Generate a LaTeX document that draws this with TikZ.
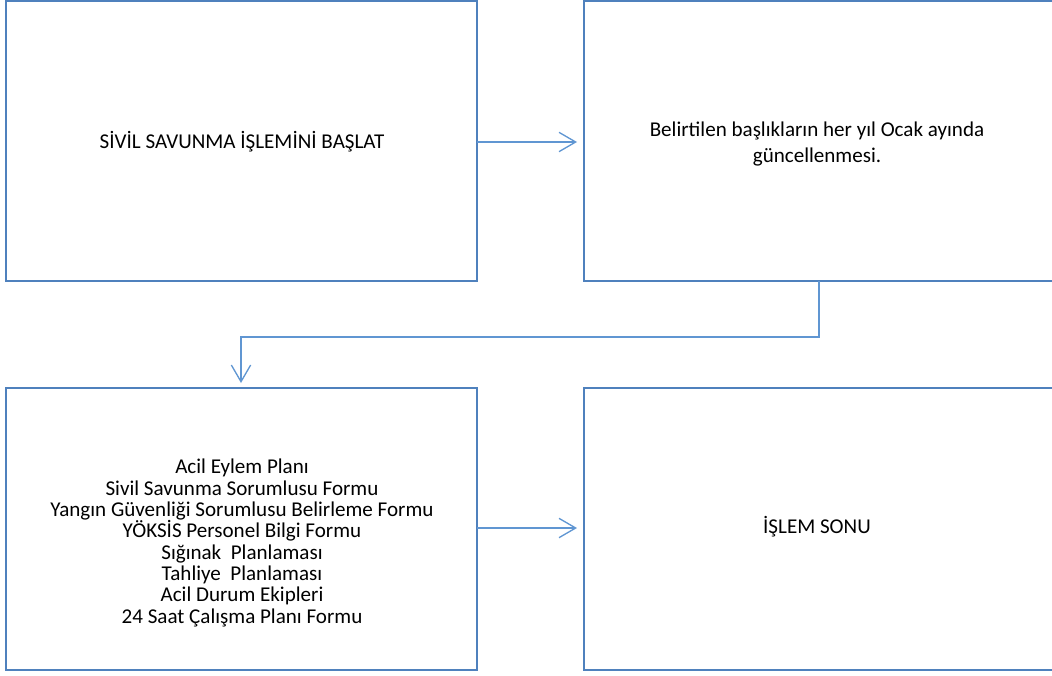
\documentclass[tikz,border=0pt]{standalone}
\usepackage{fontspec}
\setmainfont{Carlito}
\usetikzlibrary{arrows.meta}
\definecolor{boxblue}{RGB}{79,129,189}
\definecolor{linkblue}{RGB}{96,150,210}
\begin{document}
\begin{tikzpicture}[x=0.75pt,y=-0.75pt,
  boxline/.style={draw=boxblue,line width=2pt},
  txt/.style={font=\fontsize{15.8}{16}\selectfont,align=center,inner sep=0pt},
  link/.style={draw=linkblue,line width=1pt,-{Straight Barb[length=12.5pt,width=14.5pt,line width=1pt]}}]
\useasboundingbox (0,0) rectangle (1052,675);
% boxes
\draw[boxline] (6,1) rectangle (477,281);
\draw[boxline] (584,1) rectangle (1056,281);
\draw[boxline] (6,388) rectangle (477,670);
\draw[boxline] (584,388) rectangle (1056,670);
% anchors
\coordinate (aR) at (477,142);
\coordinate (bL) at (584,142);
\coordinate (bB) at (819,281);
\coordinate (cT) at (241,388);
\coordinate (cR) at (477,528);
\coordinate (dL) at (584,528);
% texts
\node[txt] (ta) at (242,142) {SİVİL SAVUNMA İŞLEMİNİ BAŞLAT};
\node[txt,font=\fontsize{15.8}{19.5}\selectfont] (tb) at (817,144) {Belirtilen başlıkların her yıl Ocak ayında\\güncellenmesi.};
\node[txt] (tc) at (242,543) {Acil Eylem Planı\\Sivil Savunma Sorumlusu Formu\\Yangın Güvenliği Sorumlusu Belirleme Formu\\YÖKSİS Personel Bilgi Formu\\Sığınak\ \ Planlaması\\Tahliye\ \ Planlaması\\Acil Durum Ekipleri\\24 Saat Çalışma Planı Formu};
\node[txt] (td) at (817,527) {İŞLEM SONU};
% connectors
\draw[link] (aR) -- ([xshift=-7*0.75pt]bL);
\draw[link] (bB) -- (819,337) -- (241,337) -- ([yshift=5*0.75pt]cT);
\draw[link] (cR) -- ([xshift=-7*0.75pt]dL);
\end{tikzpicture}
\end{document}
